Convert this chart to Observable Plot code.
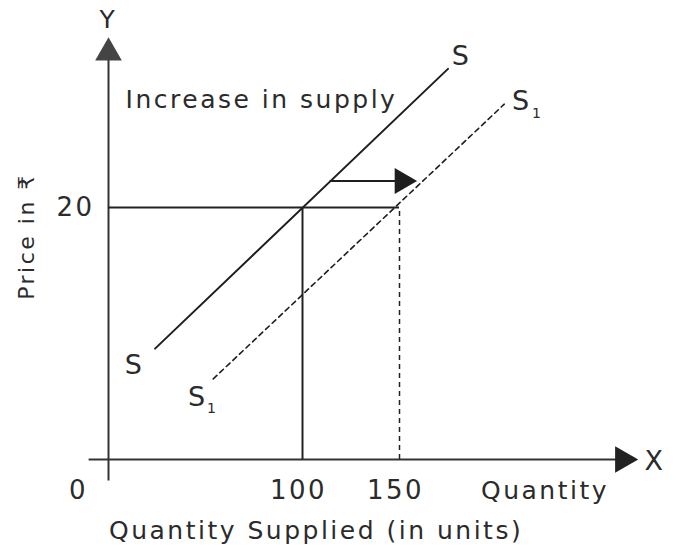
<!DOCTYPE html>
<html>
<head>
<meta charset="utf-8">
<script src="https://cdn.jsdelivr.net/npm/d3@7"></script>
<script src="https://cdn.jsdelivr.net/npm/@observablehq/plot@0.6"></script>
<style>
  html, body { margin: 0; padding: 0; background: #fff; }
  #chart svg { display: block; }
  #chart svg text { letter-spacing: 2.5px; }
</style>
</head>
<body>
<div id="chart"></div>
<script>
// ---- data ----
const quantityTicks = [100, 150];
const quantityTickLabels = ["100", "150"];
const originLabel = "0";
const priceTicks = [20];
const priceTickLabels = ["20"];
const equilibriumPrice = 20;
const oldQuantity = 100;
const newQuantity = 150;
const supplyS  = [{q: 24, p: 8.8}, {q: 175, p: 31}];
const supplyS1 = [{q: 54, p: 6.4}, {q: 204, p: 28.2}];
const shiftArrow = [{q1: 114, q2: 159, p: 22.1}];
const xAxisExtent = [-10, 273];
const yAxisExtent = [-1.7, 33.5];

const FONT = "'DejaVu Sans', sans-serif";
const INK = "#2b2b2b";

const chart = Plot.plot({
  width: 676,
  height: 553,
  margin: 0,
  style: {background: "#fff", fontFamily: FONT},
  x: {domain: [0, 150], range: [108, 399], axis: null},
  y: {domain: [0, 20], range: [459, 207], axis: null},
  marks: [
    // axes
    Plot.ruleY([0], {x1: xAxisExtent[0], x2: xAxisExtent[1] - 5, stroke: "#333", strokeWidth: 2, clip: false}),
    Plot.ruleX([0], {y1: yAxisExtent[0], y2: yAxisExtent[1] - 1.2, stroke: "#333", strokeWidth: 2, clip: false}),
    Plot.dot([{q: xAxisExtent[1], p: 0}], {x: "q", y: "p", symbol: "triangle", r: 9.9, rotate: 90, dx: -15.3, fill: "#222", stroke: "none"}),
    Plot.dot([{q: 0, p: yAxisExtent[1]}], {x: "q", y: "p", symbol: "triangle", r: 9.9, rotate: 0, dy: 15.3, fill: "#444", stroke: "none"}),

    // guide lines
    Plot.ruleY([equilibriumPrice], {x1: 0, x2: newQuantity, stroke: "#222", strokeWidth: 2}),
    Plot.ruleX([oldQuantity], {y1: 0, y2: equilibriumPrice, stroke: "#222", strokeWidth: 2}),
    Plot.ruleX([newQuantity], {y1: 0, y2: equilibriumPrice, stroke: "#222", strokeWidth: 1.5, strokeDasharray: "5,4"}),

    // supply curves
    Plot.line(supplyS, {x: "q", y: "p", stroke: "#1e1e1e", strokeWidth: 2}),
    Plot.line(supplyS1, {x: "q", y: "p", stroke: "#1e1e1e", strokeWidth: 1.6, strokeDasharray: "5,4"}),

    // shift arrow
    Plot.link(shiftArrow, {x1: "q1", x2: d => d.q2 - 3, y1: "p", y2: "p", stroke: "#1e1e1e", strokeWidth: 2}),
    Plot.dot(shiftArrow, {x: "q2", y: "p", symbol: "triangle", r: 9.6, rotate: 90, dx: -14.8, fill: "#1e1e1e", stroke: "none"}),

    // tick labels
    Plot.text(quantityTicks, {x: d => d, y: () => 0, text: (d, i) => quantityTickLabels[i], dx: -4, dy: 31, fontSize: 26, fill: INK}),
    Plot.text([originLabel], {x: () => 0, y: () => 0, text: d => d, dx: -30, dy: 31, fontSize: 26, fill: INK}),
    Plot.text(priceTicks, {x: () => 0, y: d => d, text: (d, i) => priceTickLabels[i], dx: -14, textAnchor: "end", fontSize: 26, fill: INK}),

    // axis letters
    Plot.text(["Y"], {x: () => 0, y: () => yAxisExtent[1], text: d => d, dy: -17, fontSize: 25, fill: INK}),
    Plot.text(["X"], {x: () => xAxisExtent[1], y: () => 0, text: d => d, dx: 17, dy: 2, fontSize: 27, fill: INK}),

    // titles
    Plot.text(["Quantity"], {x: () => 225, y: () => 0, text: d => d, dy: 31, fontSize: 25, fill: INK}),
    Plot.text(["Quantity Supplied (in units)"], {x: () => 107, y: () => 0, text: d => d, dy: 71, fontSize: 25, fill: INK}),
    Plot.text(["Price in ₹"], {x: () => -42, y: () => 17.7, text: d => d, rotate: -90, fontSize: 22, fill: INK}),
    Plot.text(["Increase in supply"], {x: () => 8.8, y: () => 28.5, text: d => d, textAnchor: "start", fontSize: 25, fill: INK}),

    // curve labels
    Plot.text(["S"], {x: () => 182, y: () => 32, text: d => d, fontSize: 27, fill: INK}),
    Plot.text(["S"], {x: () => 13.4, y: () => 7.5, text: d => d, fontSize: 27, fill: INK}),
    Plot.text(["S"], {x: () => 213, y: () => 28.4, text: d => d, fontSize: 27, fill: INK}),
    Plot.text(["1"], {x: () => 213, y: () => 28.4, text: d => d, dx: 16, dy: 12, fontSize: 14, fill: INK}),
    Plot.text(["S"], {x: () => 46, y: () => 4.9, text: d => d, fontSize: 27, fill: INK}),
    Plot.text(["1"], {x: () => 46, y: () => 4.9, text: d => d, dx: 15, dy: 11, fontSize: 14, fill: INK})
  ]
});
document.getElementById("chart").append(chart);
</script>
</body>
</html>
